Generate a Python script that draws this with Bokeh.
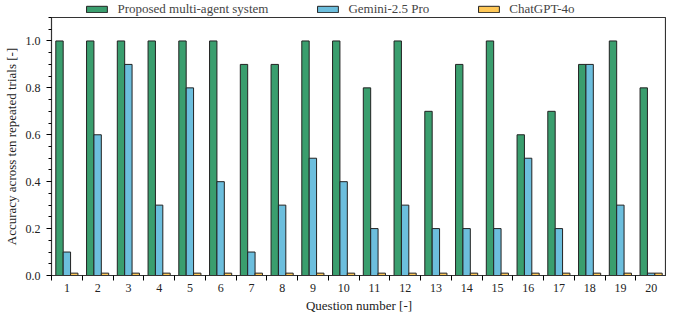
from bokeh.plotting import figure
from bokeh.layouts import column
from bokeh.models import ColumnDataSource, FixedTicker, Range1d, Legend, LegendItem, NumeralTickFormatter
from bokeh.transform import dodge
from bokeh.embed import file_html
from bokeh.resources import INLINE

questions = list(range(1, 21))
proposed = [1.0, 1.0, 1.0, 1.0, 1.0, 1.0, 0.9, 0.9, 1.0, 1.0, 0.8, 1.0, 0.7, 0.9, 1.0, 0.6, 0.7, 0.9, 1.0, 0.8]
gemini = [0.1, 0.6, 0.9, 0.3, 0.8, 0.4, 0.1, 0.3, 0.5, 0.4, 0.2, 0.3, 0.2, 0.2, 0.2, 0.5, 0.2, 0.9, 0.3, 0.01]
chatgpt = [0.01] * 20
series_names = ["Proposed multi-agent system", "Gemini-2.5 Pro", "ChatGPT-4o"]
colors = ["#3a9e6e", "#6cbedd", "#ffc857"]

src = ColumnDataSource(dict(q=questions, a=proposed, b=gemini, c=chatgpt))

FONT = "'Liberation Serif', 'Times New Roman', serif"
w = 0.24
cols = ["a", "b", "c"]
offs = [-w, 0, w]

# main chart
p = figure(frame_width=615, frame_height=258, output_backend="svg", toolbar_location=None,
           x_range=Range1d(0.5, 20.5), y_range=Range1d(0, 1.1),
           min_border_top=0, min_border_left=43, min_border_right=0, min_border_bottom=0)
p.grid.visible = False
p.outline_line_color = "#333333"
p.outline_line_width = 1.2
p.background_fill_color = "white"

for col, off, c in zip(cols, offs, colors):
    p.vbar(x=dodge("q", off), top=col, width=w, source=src, fill_color=c,
           line_color="#222222", line_width=1)

xa = p.xaxis[0]
xa.ticker = FixedTicker(ticks=questions, minor_ticks=[q + 0.5 for q in range(0, 21)])
xa.major_tick_line_color = None
xa.minor_tick_out = 5
xa.minor_tick_in = 0
xa.major_label_standoff = 2
xa.axis_label = "Question number [-]"
xa.axis_label_standoff = 3

ya = p.yaxis[0]
ya.ticker = FixedTicker(ticks=[0, 0.2, 0.4, 0.6, 0.8, 1.0],
                        minor_ticks=[i * 0.05 for i in range(0, 23)])
ya.formatter = NumeralTickFormatter(format="0.0")
ya.major_tick_out = 5
ya.major_tick_in = 0
ya.minor_tick_out = 3
ya.minor_tick_in = 0
ya.major_label_standoff = 6
ya.axis_label = "Accuracy across ten repeated trials [-]"
ya.axis_label_standoff = 4

for ax in (xa, ya):
    ax.axis_line_color = "#333333"
    ax.major_label_text_font = FONT
    ax.major_label_text_font_size = "12px"
    ax.major_label_text_color = "#222222"
    ax.axis_label_text_font = FONT
    ax.axis_label_text_font_size = "13px"
    ax.axis_label_text_font_style = "normal"
    ax.axis_label_text_color = "#222222"

# legend strip above the chart (bars fall outside its y-range, only the legend shows)
lg = figure(frame_width=608, frame_height=17, output_backend="svg", toolbar_location=None,
            x_range=Range1d(0.5, 20.5), y_range=Range1d(2, 3),
            x_axis_location=None, y_axis_location=None,
            min_border_top=0, min_border_left=50, min_border_right=0, min_border_bottom=0)
lg.grid.visible = False
lg.outline_line_color = None
lrs = []
for col, off, c in zip(cols, offs, colors):
    lrs.append(lg.vbar(x=dodge("q", off), top=col, width=w, source=src, fill_color=c,
                       line_color="#222222", line_width=1))

legend = Legend(items=[LegendItem(label=n, renderers=[r]) for n, r in zip(series_names, lrs)],
                orientation="horizontal", location="center", border_line_color=None,
                background_fill_alpha=0, spacing=46, glyph_width=26, glyph_height=8,
                label_text_font=FONT, label_text_font_size="13px", padding=0, margin=0,
                label_standoff=8, label_height=13)
lg.add_layout(legend, "center")

layout = column(lg, p, spacing=0)
open("out.html", "w").write(file_html(layout, INLINE))
